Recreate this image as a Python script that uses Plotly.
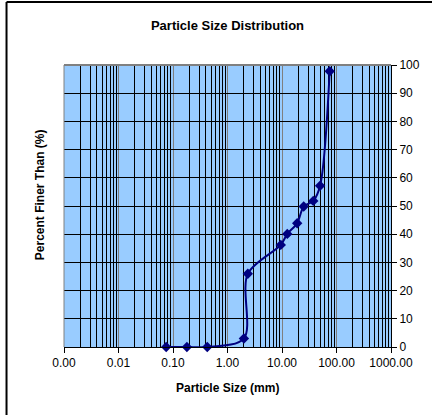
import plotly.graph_objects as go

particle_size_mm = [0.075, 0.18, 0.425, 2.0, 2.36, 9.5, 12.5, 19.0, 25.0, 37.5, 50.0, 75.0]
percent_finer = [0.0, 0.0, 0.0, 3.0, 26.0, 36.2, 40.1, 43.9, 49.8, 51.8, 57.2, 97.8]

x_tickvals = [0.001, 0.01, 0.1, 1, 10, 100, 1000]
x_ticktext = ["0.00", "0.01", "0.10", "1.00", "10.00", "100.00", "1000.00"]

FONT = "Liberation Sans, Arial, sans-serif"

fig = go.Figure()
fig.add_trace(go.Scatter(
    x=particle_size_mm, y=percent_finer,
    mode="lines+markers",
    line=dict(color="#000080", width=2, shape="spline", smoothing=0.9),
    marker=dict(symbol="diamond", size=8, color="#000080"),
    cliponaxis=False,
    showlegend=False,
))

fig.update_layout(
    width=432, height=415,
    margin=dict(l=64, r=38, t=65, b=68),
    paper_bgcolor="white",
    plot_bgcolor="#99CCFF",
    font=dict(family=FONT, size=12, color="black"),
    title=dict(text="<b>Particle Size Distribution</b>", x=0.5, xref="paper",
               y=1 - 25 / 415, yanchor="middle", font=dict(size=13)),
    xaxis=dict(
        type="log", range=[-3, 3],
        tickmode="array", tickvals=x_tickvals, ticktext=x_ticktext,
        ticks="outside", ticklen=5, tickcolor="black",
        showgrid=True, gridcolor="#7f7f7f", gridwidth=1,
        minor=dict(showgrid=True, gridcolor="black", gridwidth=1, dtick="D1", tickmode="linear"),
        showline=True, linecolor="black", linewidth=1,
        zeroline=False, tickfont=dict(size=12),
    ),
    yaxis=dict(
        range=[0, 100], dtick=10, side="right",
        ticks="outside", ticklen=5, tickcolor="black",
        showgrid=True, gridcolor="black", gridwidth=1,
        showline=True, linecolor="black", linewidth=1,
        zeroline=False, tickfont=dict(size=12),
    ),
    annotations=[
        dict(text="<b>Particle Size (mm)</b>", xref="paper", yref="paper",
             x=0.5, y=(347 - 388) / 282, xanchor="center", yanchor="middle",
             showarrow=False, font=dict(size=12)),
        dict(text="<b>Percent Finer Than (%)</b>", xref="paper", yref="paper",
             x=(40 - 64) / 330, y=(347 - 195) / 282, xanchor="center", yanchor="middle",
             textangle=-90, showarrow=False, font=dict(size=12)),
    ],
    shapes=[
        dict(type="line", xref="paper", yref="paper", x0=0, x1=1, y0=1, y1=1,
             line=dict(color="#808080", width=2)),
        dict(type="line", xref="paper", yref="paper", x0=0, x1=0, y0=0, y1=1,
             line=dict(color="#808080", width=1)),
        dict(type="line", xref="paper", yref="paper", x0=-58 / 330, x1=1.2, y0=345 / 282, y1=345 / 282,
             line=dict(color="black", width=2)),
        dict(type="line", xref="paper", yref="paper", x0=-58 / 330, x1=-58 / 330, y0=-0.3, y1=345 / 282,
             line=dict(color="black", width=2)),
    ],
)

fig.write_html("out.html", config={"displayModeBar": False},
               post_script="document.body.style.margin='0';document.body.style.overflow='hidden';")
